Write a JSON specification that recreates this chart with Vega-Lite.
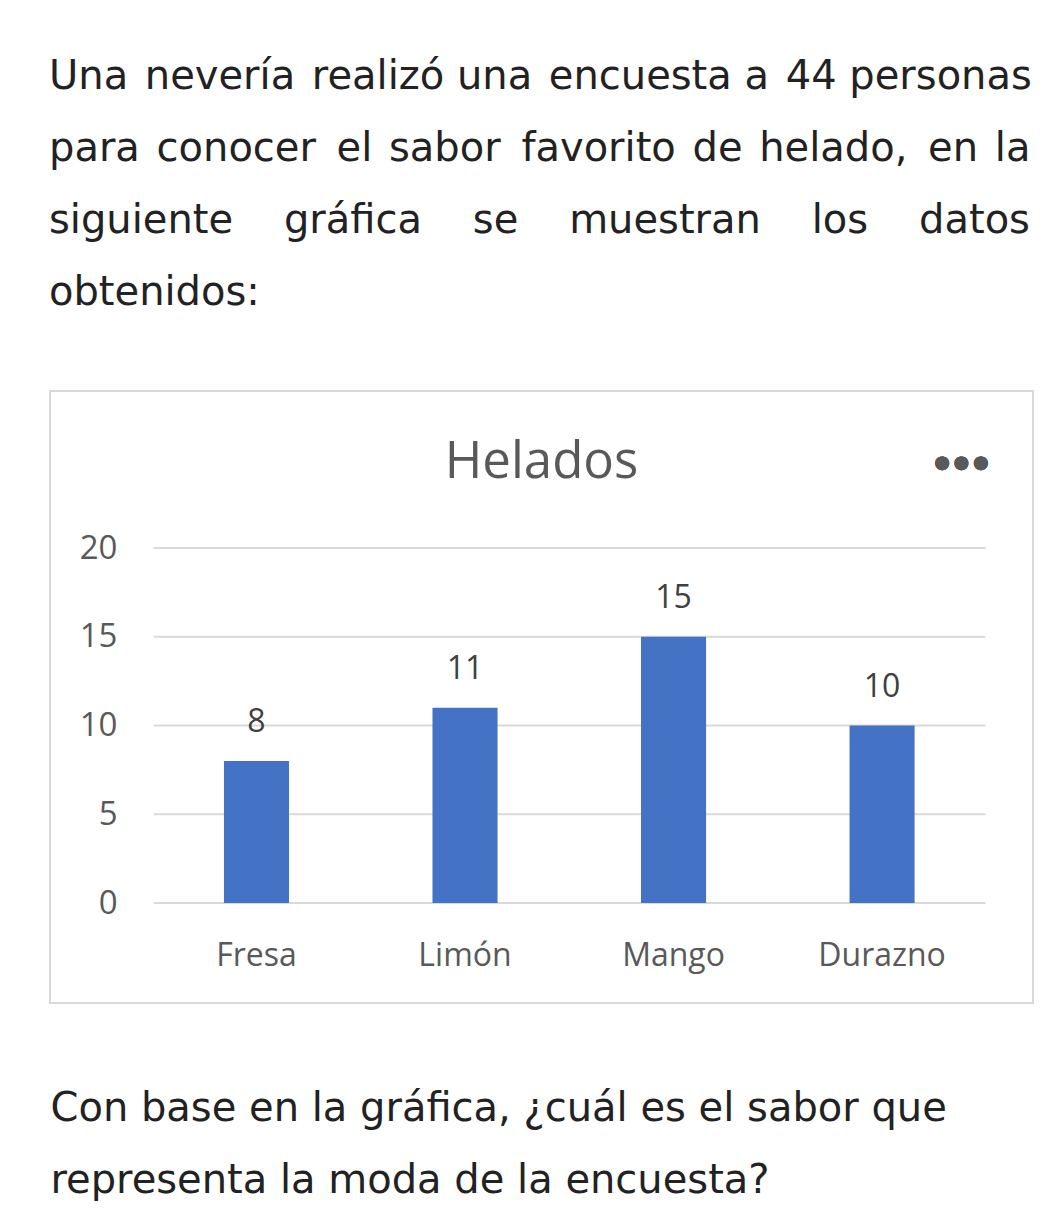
{
  "$schema": "https://vega.github.io/schema/vega-lite/v6.json",
  "background": "white",
  "padding": {"left": 49, "top": 57, "right": 0, "bottom": 0},
  "title": {
    "text": [
      "Una\u200a nevería\u200a realizó una\u200a encuesta a\u200a 44 personas",
      "para\u200a conocer\u2009 el\u200a sabor\u2009 favorito\u200a de\u200a helado,\u2009 en\u200a la",
      "siguiente\u00a0\u00a0\u00a0 gráfica\u00a0\u00a0\u00a0 se\u00a0\u00a0\u00a0 muestran\u00a0\u00a0\u00a0 los\u00a0\u00a0\u00a0 datos",
      "obtenidos:"
    ],
    "anchor": "start",
    "align": "left",
    "font": "DejaVu Sans",
    "fontSize": 40,
    "fontWeight": "normal",
    "color": "#222222",
    "lineHeight": 72,
    "offset": 77
  },
  "vconcat": [
    {
      "width": 983,
      "height": 612,
      "title": {
        "text": "Helados",
        "font": "Open Sans",
        "fontSize": 51,
        "fontWeight": "normal",
        "color": "#595959",
        "anchor": "middle",
        "offset": -98
      },
      "data": {
        "values": [
          {"sabor": "Fresa", "personas": 8},
          {"sabor": "Limón", "personas": 11},
          {"sabor": "Mango", "personas": 15},
          {"sabor": "Durazno", "personas": 10}
        ]
      },
      "layer": [
        {
          "data": {"values": [{"v": 0}, {"v": 5}, {"v": 10}, {"v": 15}, {"v": 20}]},
          "mark": {"type": "rule", "color": "#d9d9d9", "strokeWidth": 2},
          "encoding": {
            "y": {"field": "v", "type": "quantitative"},
            "x": {"datum": "Fresa", "type": "nominal", "bandPosition": -1.08},
            "x2": {"datum": "Durazno", "bandPosition": 2.09}
          }
        },
        {
          "mark": {"type": "bar", "color": "#4472C4"},
          "encoding": {
            "x": {
              "field": "sabor",
              "type": "nominal",
              "sort": ["Fresa", "Limón", "Mango", "Durazno"],
              "scale": {"type": "band", "paddingInner": 0.688, "paddingOuter": 0.701, "align": 0.595},
              "axis": {
                "orient": "bottom",
                "offset": -48,
                "bandPosition": 0.5,
                "domain": false,
                "ticks": false,
                "tickSize": 0,
                "grid": false,
                "labelPadding": 0,
                "labelAngle": 0,
                "labelAlign": "center",
                "labelFont": "Open Sans",
                "labelFontSize": 32,
                "labelColor": "#595959",
                "title": ["Con base en la gráfica, ¿cuál es el sabor que", "representa la moda de la encuesta?"],
                "titleFont": "DejaVu Sans",
                "titleFontSize": 40,
                "titleFontWeight": "normal",
                "titleColor": "#222222",
                "titleLineHeight": 72,
                "titleAnchor": "start",
                "titleAlign": "left",
                "titlePadding": 117
              }
            },
            "y": {
              "field": "personas",
              "type": "quantitative",
              "scale": {"domain": [-5.63, 28.85], "nice": false},
              "axis": {
                "orient": "left",
                "values": [0, 5, 10, 15, 20],
                "offset": -67,
                "domain": false,
                "ticks": false,
                "tickSize": 0,
                "grid": false,
                "labelPadding": 0,
                "labelFont": "Open Sans",
                "labelFontSize": 33,
                "labelColor": "#595959",
                "title": null
              }
            },
            "y2": {"datum": 0}
          }
        },
        {
          "mark": {"type": "text", "dy": -29, "baseline": "alphabetic", "font": "Open Sans", "fontSize": 32, "color": "#404040"},
          "encoding": {
            "x": {"field": "sabor", "type": "nominal", "sort": ["Fresa", "Limón", "Mango", "Durazno"]},
            "y": {"field": "personas", "type": "quantitative"},
            "text": {"field": "personas", "type": "quantitative"}
          }
        },
        {
          "mark": {"type": "text", "text": "●\u2009●\u2009●", "font": "DejaVu Sans", "fontSize": 18, "color": "#595959", "baseline": "middle", "align": "center"},
          "encoding": {
            "x": {"datum": "Durazno", "type": "nominal", "bandPosition": 1.72},
            "y": {"datum": 24.8, "type": "quantitative"}
          }
        }
      ]
    }
  ],
  "config": {
    "view": {"stroke": "#d9d9d9", "strokeWidth": 2}
  }
}
